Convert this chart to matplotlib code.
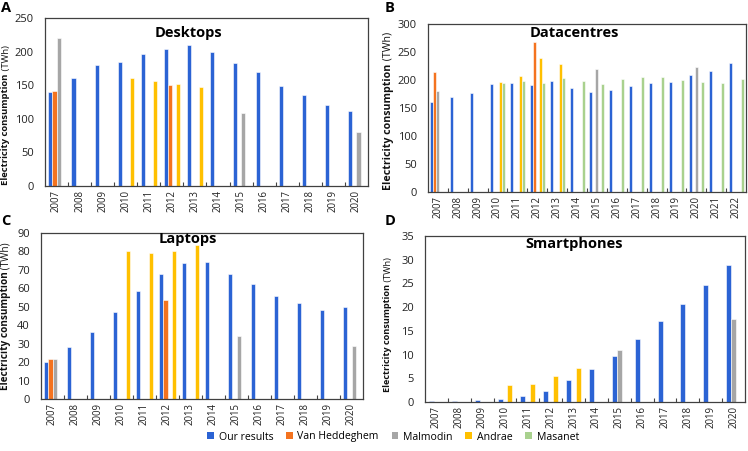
import numpy as np
import matplotlib
matplotlib.use("Agg")
import matplotlib.pyplot as plt
from matplotlib.patches import Patch

plt.rcParams['font.family'] = ['Open Sans', 'DejaVu Sans']

series_names = ["Our results", "Van Heddeghem", "Malmodin", "Andrae", "Masanet"]
colors = {"Our results": "#2B63D4", "Van Heddeghem": "#F4731F", "Malmodin": "#A6A6A6",
          "Andrae": "#FFC000", "Masanet": "#A9D18E"}

years14 = [str(y) for y in range(2007, 2021)]
years16 = [str(y) for y in range(2007, 2023)]
nan = np.nan

# Desktops
desk_ours = [140, 161, 180, 184, 197, 204, 210, 199, 183, 169, 149, 135, 120, 111]
desk_vh = [142, nan, nan, nan, nan, 151, nan, nan, nan, nan, nan, nan, nan, nan]
desk_mal = [220, nan, nan, nan, nan, nan, nan, nan, 109, nan, nan, nan, nan, 81]
desk_and = [nan, nan, nan, 160, 156, 152, 148, nan, nan, nan, nan, nan, nan, nan]

# Datacentres
dc_ours = [161, 169, 177, 192, 194, 191, 198, 185, 179, 183, 189, 194, 197, 209, 216, 231]
dc_vh = [215, nan, nan, nan, nan, 268, nan, nan, nan, nan, nan, nan, nan, nan, nan, nan]
dc_mal = [180, nan, nan, nan, nan, nan, nan, nan, 220, nan, nan, nan, nan, 223, nan, nan]
dc_and = [nan, nan, nan, 196, 207, 239, 228, nan, nan, nan, nan, nan, nan, nan, nan, nan]
dc_mas = [nan, nan, nan, 194, 198, 195, 203, 199, 193, 201, 205, 205, 200, 197, 195, 202]

# Laptops
lap_ours = [20.1, 28.1, 36.2, 47.2, 58.8, 67.9, 73.9, 74.2, 67.9, 62.2, 55.9, 52.0, 48.4, 49.8]
lap_vh = [21.5, nan, nan, nan, nan, 53.6, nan, nan, nan, nan, nan, nan, nan, nan]
lap_mal = [21.9, nan, nan, nan, nan, nan, nan, nan, 33.9, nan, nan, nan, nan, 28.7]
lap_and = [nan, nan, nan, 80.5, 79.2, 80.1, 83.7, nan, nan, nan, nan, nan, nan, nan]

# Smartphones
sp_ours = [0.12, 0.2, 0.35, 0.64, 1.3, 2.4, 4.7, 6.9, 9.8, 13.3, 17.0, 20.6, 24.7, 28.8]
sp_mal = [nan, nan, nan, nan, nan, nan, nan, nan, 11.0, nan, nan, nan, nan, 17.5]
sp_and = [nan, nan, nan, 3.5, 3.9, 5.4, 7.2, nan, nan, nan, nan, nan, nan, nan]

W, H = 748, 451
fig = plt.figure(figsize=(W / 100, H / 100), dpi=100)
renderer = fig.canvas.get_renderer()

def rect(l, r, t, b):
    return [l / W, 1 - b / H, (r - l) / W, (b - t) / H]

def text_len(s, fs, weight):
    t = fig.text(0, 0, s, fontsize=fs, fontweight=weight)
    w = t.get_window_extent(renderer).width
    t.remove()
    return w

def ylabel(xpix, top, bottom):
    # bold part + normal part, drawn bottom-to-top between pixel rows bottom..top
    want = bottom - top
    l1 = text_len("Electricity consumption", 10, "bold")
    l2 = text_len(" (TWh)", 10, "normal")
    fs = 10 * want / (l1 + l2)
    l1 *= fs / 10
    y0 = 1 - bottom / H
    fig.text(xpix / W, y0, "Electricity consumption", rotation=90, ha="center", va="bottom",
             fontsize=fs, fontweight="bold", color="#111111")
    fig.text(xpix / W, y0 + l1 / H, " (TWh)", rotation=90, ha="center", va="bottom",
             fontsize=fs, color="#111111")

panels = [
    dict(letter="A", title="Desktops", rect=rect(45, 368, 18, 186), cats=years14,
         data=[("Our results", desk_ours), ("Van Heddeghem", desk_vh), ("Malmodin", desk_mal), ("Andrae", desk_and)],
         ymax=250, step=50, tpos=(0.443, 0.91), lpos=(1, 1), ylab=(6, 45, 185)),
    dict(letter="B", title="Datacentres", rect=rect(428, 746, 24, 192), cats=years16,
         data=[("Our results", dc_ours), ("Van Heddeghem", dc_vh), ("Malmodin", dc_mal), ("Andrae", dc_and), ("Masanet", dc_mas)],
         ymax=300, step=50, tpos=(0.459, 0.946), lpos=(385, 1), ylab=(388, 32, 190)),
    dict(letter="C", title="Laptops", rect=rect(41, 363, 233, 399), cats=years14,
         data=[("Our results", lap_ours), ("Van Heddeghem", lap_vh), ("Malmodin", lap_mal), ("Andrae", lap_and)],
         ymax=90, step=10, tpos=(0.457, 0.964), lpos=(1, 214), ylab=(6, 243, 390)),
    dict(letter="D", title="Smartphones", rect=rect(425, 745, 236, 402), cats=years14,
         data=[("Our results", sp_ours), ("Malmodin", sp_mal), ("Andrae", sp_and)],
         ymax=35, step=5, tpos=(0.466, 0.952), lpos=(385, 214), ylab=(388, 257, 392)),
]

for p in panels:
    ax = fig.add_axes(p["rect"])
    cats = p["cats"]
    x = np.arange(len(cats))
    n = len(p["data"])
    slot = 1.0 / (n + 1.65)
    for i, (name, vals) in enumerate(p["data"]):
        off = (i - (n - 1) / 2) * slot
        ax.bar(x + off, vals, width=slot, color=colors[name], edgecolor="white", linewidth=0.4)
    ax.set_xlim(-0.5, len(cats) - 0.5)
    ax.set_ylim(0, p["ymax"])
    ax.set_yticks(np.arange(0, p["ymax"] + 1, p["step"]))
    ax.set_xticks(x)
    ax.set_xticklabels(cats, rotation=90, fontsize=6.9, color="#222222")
    ax.set_xticks(np.arange(0.5, len(cats) - 1, 1.0), minor=True)
    ax.tick_params(axis="x", which="major", length=0, pad=3)
    ax.tick_params(axis="x", which="minor", length=3, direction="in", width=0.8, color="#444444")
    ax.tick_params(axis="y", length=0, labelsize=8, pad=8, labelcolor="#222222")
    for s in ax.spines.values():
        s.set_color("#404040")
        s.set_linewidth(0.9)
    ax.text(p["tpos"][0], p["tpos"][1], p["title"], transform=ax.transAxes, ha="center", va="center",
            fontsize=10.5, fontweight="bold")
    fig.text(p["lpos"][0] / W, 1 - p["lpos"][1] / H, p["letter"], ha="left", va="top",
             fontsize=10.5, fontweight="bold")
    ylabel(*p["ylab"])

handles = [Patch(facecolor=colors[s], edgecolor="none") for s in series_names]
fig.legend(handles, series_names, loc="center", bbox_to_anchor=(393 / W, 1 - 437 / H), ncol=5,
           frameon=False, fontsize=7.6, handlelength=0.65, handleheight=0.65, handletextpad=0.45,
           columnspacing=1.2)

fig.savefig("out.png", dpi=100)
